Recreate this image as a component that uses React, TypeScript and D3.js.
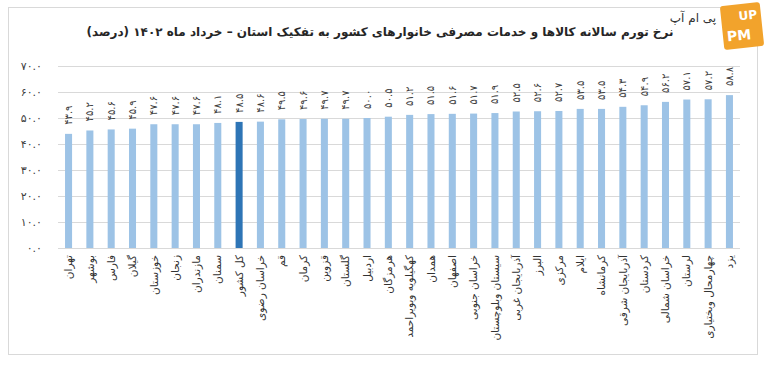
import React, { useEffect, useRef } from 'react';
import * as d3 from 'd3';

const provinces = [
  'تهران', 'بوشهر', 'فارس', 'گیلان', 'خوزستان', 'زنجان', 'مازندران', 'سمنان',
  'کل کشور', 'خراسان رضوی', 'قم', 'کرمان', 'قزوین', 'گلستان', 'اردبیل', 'هرمزگان',
  'کهگیلویه وبویراحمد', 'همدان', 'اصفهان', 'خراسان جنوبی', 'سیستان وبلوچستان', 'آذربایجان غربی',
  'البرز', 'مرکزی', 'ایلام', 'کرمانشاه', 'آذربایجان شرقی', 'کردستان', 'خراسان شمالی',
  'لرستان', 'چهارمحال وبختیاری', 'یزد'
];
const inflation = [
  43.9, 45.2, 45.6, 45.9, 47.6, 47.6, 47.6, 48.1,
  48.5, 48.6, 49.5, 49.6, 49.7, 49.7, 50.0, 50.5,
  51.2, 51.5, 51.6, 51.7, 51.9, 52.5,
  52.6, 52.7, 53.5, 53.5, 54.3, 54.9, 56.2,
  57.1, 57.2, 58.8
];
const yTicks = [0, 10, 20, 30, 40, 50, 60, 70];
const highlight = 'کل کشور';
const title = 'نرخ تورم سالانه کالاها و خدمات مصرفی خانوارهای کشور به تفکیک استان – خرداد ماه ۱۴۰۲ (درصد)';

const faDigits = '۰۱۲۳۴۵۶۷۸۹';
const toFa = (v: number) => v.toFixed(1).replace(/\d/g, d => faDigits[+d]);

function App() {
  const svgRef = useRef<SVGSVGElement>(null);

  useEffect(() => {
    if (!svgRef.current) return;
    const width = 768;
    const height = 365;
    const margin = { top: 66, right: 28, bottom: 117, left: 58 };

    const svg = d3.select(svgRef.current);
    svg.selectAll('*').remove();
    svg.attr('width', width).attr('height', height);

    svg.append('rect')
      .attr('width', width).attr('height', height).attr('fill', '#fff');

    // chart frame
    svg.append('rect')
      .attr('x', 8.5).attr('y', 7.5)
      .attr('width', 749).attr('height', 347)
      .attr('fill', 'none').attr('stroke', '#d9d9d9');

    const x = d3.scaleBand<string>()
      .domain(provinces)
      .range([margin.left, width - margin.right])
      .paddingInner(0.67)
      .paddingOuter(0.33);

    const y = d3.scaleLinear()
      .domain([0, 70])
      .range([height - margin.bottom, margin.top]);

    // grid
    svg.append('g')
      .selectAll('line')
      .data(yTicks)
      .join('line')
      .attr('x1', margin.left).attr('x2', width - margin.right)
      .attr('y1', d => Math.round(y(d)) + 0.5).attr('y2', d => Math.round(y(d)) + 0.5)
      .attr('stroke', '#d9d9d9');

    svg.append('g')
      .selectAll('text')
      .data(yTicks)
      .join('text')
      .attr('x', 42)
      .attr('y', d => y(d))
      .attr('dy', '0.35em')
      .attr('text-anchor', 'end')
      .attr('font-family', 'DejaVu Sans')
      .attr('font-size', 11)
      .attr('fill', '#404040')
      .text(d => toFa(d));

    const data = provinces.map((p, i) => ({ p, v: inflation[i] }));

    svg.append('g')
      .selectAll('rect')
      .data(data)
      .join('rect')
      .attr('x', d => x(d.p)!)
      .attr('y', d => y(d.v))
      .attr('width', x.bandwidth())
      .attr('height', d => y(0) - y(d.v))
      .attr('fill', d => (d.p === highlight ? '#2e75b6' : '#9dc3e6'));

    // value labels
    svg.append('g')
      .selectAll('text')
      .data(data)
      .join('text')
      .attr('transform', d => `translate(${x(d.p)! + x.bandwidth() / 2},${y(d.v) - 9}) rotate(-90)`)
      .attr('dy', '0.35em')
      .attr('text-anchor', 'start')
      .attr('font-family', 'DejaVu Sans')
      .attr('font-size', 10)
      .attr('fill', '#404040')
      .text(d => toFa(d.v));

    // category labels
    svg.append('g')
      .selectAll('text')
      .data(provinces)
      .join('text')
      .attr('transform', d => `translate(${x(d)! + x.bandwidth() / 2},${y(0) + 7}) rotate(-90)`)
      .attr('dy', '0.35em')
      .attr('text-anchor', 'end')
      .attr('font-family', 'DejaVu Sans')
      .attr('font-size', 10.5)
      .attr('fill', '#333')
      .text(d => d);

    // title
    svg.append('text')
      .attr('x', 380)
      .attr('y', 36)
      .attr('text-anchor', 'middle')
      .attr('font-family', 'DejaVu Sans')
      .attr('font-weight', 'bold')
      .attr('font-size', 12)
      .attr('fill', '#262626')
      .text(title);

    // watermark
    svg.append('text')
      .attr('x', 693)
      .attr('y', 22)
      .attr('text-anchor', 'middle')
      .attr('font-family', 'DejaVu Sans')
      .attr('font-size', 12)
      .attr('fill', '#333')
      .text('پی ام آپ');

    const logo = svg.append('g').attr('transform', 'translate(742,26) rotate(-6)');
    logo.append('rect')
      .attr('x', -20).attr('y', -22).attr('width', 40).attr('height', 44)
      .attr('rx', 3).attr('fill', '#f2a32c');
    logo.append('text')
      .attr('x', 7).attr('y', -6).attr('text-anchor', 'middle')
      .attr('font-family', 'DejaVu Sans').attr('font-weight', 'bold').attr('font-size', 12)
      .attr('fill', '#fff').text('UP');
    logo.append('text')
      .attr('x', -4).attr('y', 14).attr('text-anchor', 'middle')
      .attr('font-family', 'DejaVu Sans').attr('font-weight', 'bold').attr('font-size', 14)
      .attr('fill', '#fff').text('PM');
  }, []);

  return (
    <div style={{ position: 'absolute', left: 0, top: 0 }}>
      <svg ref={svgRef}></svg>
    </div>
  );
}

export default App;
